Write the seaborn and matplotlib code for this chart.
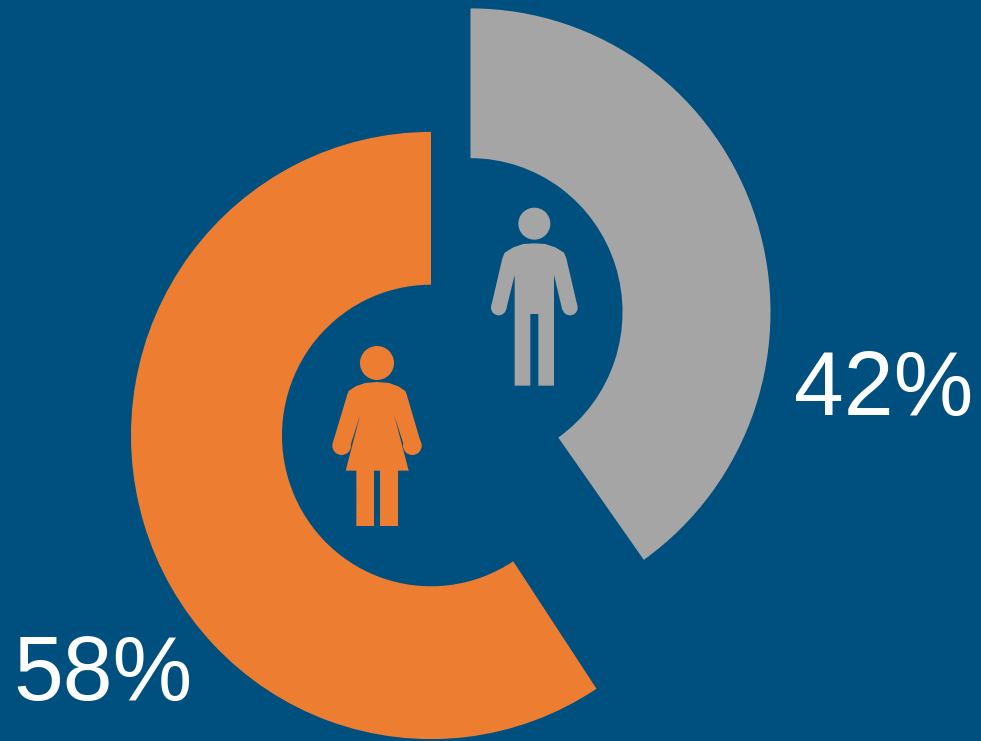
import matplotlib
matplotlib.use('Agg')
import matplotlib.pyplot as plt
import seaborn as sns
from matplotlib.patches import Ellipse, Polygon

# kategorijos ir reiksmes
kategorijos = ['Women', 'Men']
uzrasai = ['58%', '42%']
lanko_dalys = [59.3, 40.2]  # read from the arcs, they are not quite the labels

fonas = '#00507F'
spalvos = sns.color_palette(['#ED7D31', '#A5A5A5'])

sns.set_theme(style='white', rc={'figure.facecolor': fonas, 'axes.facecolor': fonas})
plt.rcParams['font.family'] = ['Liberation Sans', 'DejaVu Sans']

Y_MASTELIS = 1.012  # the rings are slightly taller than wide


def y_poz(py):
    return (741 - py) / Y_MASTELIS


def ziedas(ax, dalis, spalva, cx, cy, r, plotis, pries_laikrodi):
    ax.pie([dalis, 100 - dalis], colors=[spalva, (0, 0, 0, 0)], startangle=90,
           counterclock=pries_laikrodi, center=(cx, y_poz(cy)), radius=r,
           wedgeprops={'width': plotis, 'linewidth': 0})


def zmogus(ax, spalva, x0, y0, kontura, galva, rankos):
    # icon outlines are in 3x zoom pixels
    taskai = [(x0 + x / 3, y_poz(y0 + y / 3)) for x, y in kontura]
    ax.add_patch(Polygon(taskai, closed=True, facecolor=spalva, edgecolor='none'))
    for x, y, r in [galva] + rankos:
        ax.add_patch(Ellipse((x0 + x / 3, y_poz(y0 + y / 3)), 2 * r / 3, 2 * r / 3 / Y_MASTELIS,
                             facecolor=spalva, edgecolor='none'))


vyro_kontura = [(193, 160), (160, 162), (130, 172), (104, 188), (97, 205), (64, 347), (108, 360), (134, 255),
                (134, 587), (181, 587), (181, 372), (205, 372), (205, 587), (252, 587), (252, 255),
                (277, 360), (322, 347), (289, 205), (282, 188), (256, 172), (226, 162)]
moters_kontura = [(186, 141), (150, 144), (122, 154), (101, 168), (97, 178), (53, 325), (102, 345), (136, 238),
                  (92, 407), (124, 407), (124, 573), (177, 573), (177, 407), (195, 407), (195, 573), (249, 573),
                  (249, 407), (281, 407), (237, 238), (271, 345), (318, 325), (275, 178), (271, 168),
                  (250, 154), (222, 144)]

fig, ax = plt.subplots(figsize=(9.81, 7.41), dpi=100)
fig.subplots_adjust(left=0, right=1, bottom=0, top=1)

ziedas(ax, lanko_dalys[0], spalvos[0], 431, 435.5, 300, 151, True)
ziedas(ax, lanko_dalys[1], spalvos[1], 470.5, 312, 300, 148, False)

zmogus(ax, spalvos[1], 470, 190, vyro_kontura, (193, 101, 48), [(86, 353, 23), (300, 353, 23)])
zmogus(ax, spalvos[0], 315, 335, moters_kontura, (186, 84, 51), [(80, 332, 28), (292, 332, 28)])

ax.text(884, y_poz(415), uzrasai[1], color='white', fontsize=64.5, ha='center', va='baseline')
ax.text(103, y_poz(700), uzrasai[0], color='white', fontsize=64.5, ha='center', va='baseline')

ax.set_aspect('auto')
ax.set_xlim(0, 981)
ax.set_ylim(0, 741 / Y_MASTELIS)
ax.axis('off')

fig.savefig('out.png', dpi=100, facecolor=fonas)
